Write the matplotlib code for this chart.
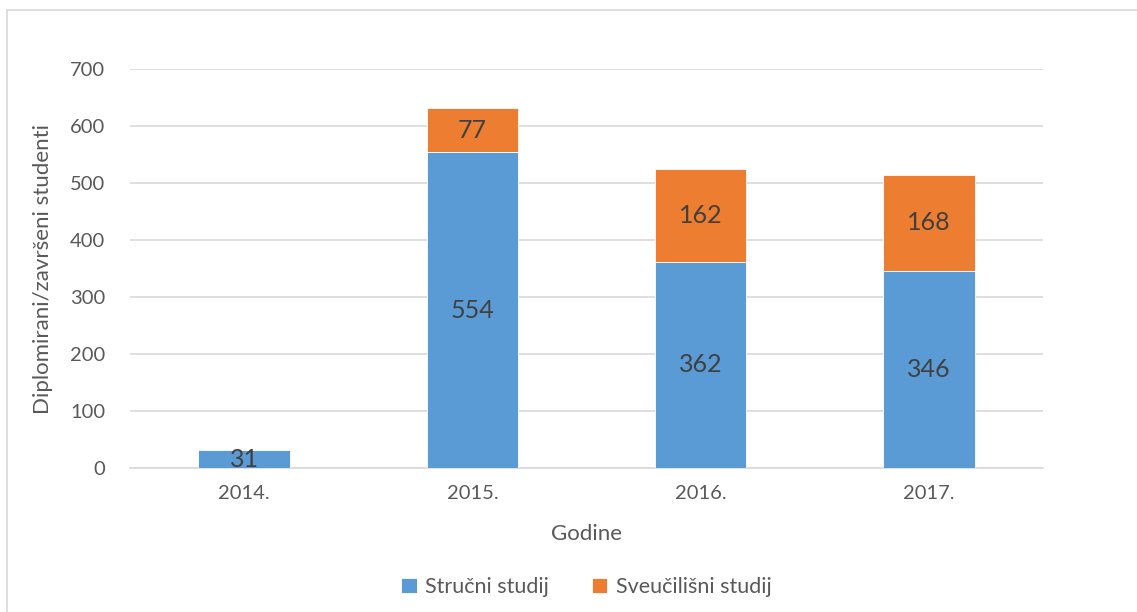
import numpy as np
import matplotlib.pyplot as plt
from matplotlib.patches import Rectangle

years = ["2014.", "2015.", "2016.", "2017."]
strucni = [31, 554, 362, 346]
sveucilisni = [0, 77, 162, 168]

blue = "#5B9BD5"
orange = "#ED7D31"
grey_text = "#595959"

plt.rcParams['font.family'] = ['Lato', 'DejaVu Sans']

fig = plt.figure(figsize=(11.37, 6.12), dpi=100)
ax = fig.add_axes([130 / 1137, 1 - 468 / 612, (1043 - 130) / 1137, (468 - 69) / 612])

# chart border (Excel-like frame)
fig.patches.append(Rectangle((7 / 1137, -0.1), 1.2, 1 - 10 / 612 + 0.1,
                             transform=fig.transFigure, fill=False,
                             edgecolor="#D9D9D9", linewidth=1.2))

x = np.arange(len(years))
w = 0.4
b1 = ax.bar(x, strucni, w, color=blue, edgecolor="white", linewidth=0.6,
            label="Stručni studij", zorder=3)
sv = np.array(sveucilisni, dtype=float)
b2 = ax.bar(x[1:], sv[1:], w, bottom=np.array(strucni)[1:], color=orange,
            edgecolor="white", linewidth=0.6, label="Sveučilišni studij", zorder=3)

ax.bar_label(b1, label_type="center", fontsize=18, color="#404040")
ax.bar_label(b2, label_type="center", fontsize=18, color="#404040")

ax.set_xlim(-0.5, len(years) - 0.5)
ax.set_ylim(0, 700)
ax.set_yticks(range(0, 701, 100))
ax.set_xticks(x)
ax.set_xticklabels(years)
ax.yaxis.grid(True, color="#D9D9D9", linewidth=1.2, zorder=0)
ax.set_axisbelow(True)
for s in ["top", "right", "left"]:
    ax.spines[s].set_visible(False)
ax.spines["bottom"].set_color("#D9D9D9")
ax.spines["bottom"].set_linewidth(1.2)
ax.tick_params(axis="both", length=0, labelsize=14.5, colors=grey_text)
ax.tick_params(axis="y", pad=18)
ax.tick_params(axis="x", pad=12)

ax.set_xlabel("Godine", fontsize=16, color=grey_text, labelpad=16)
ax.set_ylabel("Diplomirani/završeni studenti", fontsize=16, color=grey_text, labelpad=12)

ax.legend(loc="upper center", bbox_to_anchor=(0.5, -0.225), ncol=2, frameon=False,
          fontsize=15.5, labelcolor=grey_text, handlelength=0.7, handleheight=0.7,
          columnspacing=2.0, handletextpad=0.4)

fig.savefig("out.png", dpi=100)
